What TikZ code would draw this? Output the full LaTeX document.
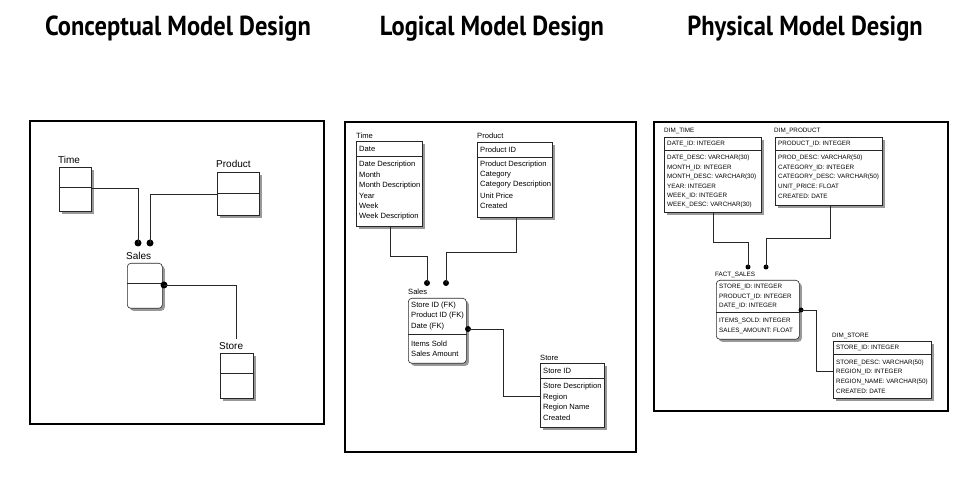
\documentclass[tikz,border=0pt]{standalone}
\usepackage{fontspec}
\setmainfont{Liberation Sans}
\newfontfamily\titlefont[FakeStretch=0.89]{PT Sans}
\usetikzlibrary{shadows}
\begin{document}
\begin{tikzpicture}[x=1pt,y=-1pt,
  panel/.style={draw=black, line width=1.8pt},
  title/.style={anchor=base, inner sep=0pt, font=\titlefont\bfseries\fontsize{27.5}{28}\selectfont},
  ent/.style={draw=black!85, line width=0.6pt, fill=white, anchor=north west, inner sep=0pt,
    drop shadow={shadow xshift=2.5pt, shadow yshift=-2.5pt, fill=black!40, opacity=1}},
  rent/.style={ent, rounded corners=3.5pt},
  divl/.style={draw=black!85, line width=0.6pt},
  clab/.style={anchor=west, inner sep=0pt, font=\fontsize{10}{10}\selectfont},
  llab/.style={anchor=west, inner sep=0pt, font=\fontsize{7.6}{8}\selectfont},
  plab/.style={anchor=west, inner sep=0pt, font=\fontsize{6.3}{7}\selectfont},
  conn/.style={draw=black!85, line width=0.7pt},
  cdot/.style={circle, fill=black, inner sep=0pt, minimum size=7pt},
  ldot/.style={circle, fill=black, inner sep=0pt, minimum size=6pt},
  pdot/.style={circle, fill=black, inner sep=0pt, minimum size=5pt}]
\useasboundingbox (0,0) rectangle (970,478);

% titles
\node[title] (t1) at (178,36) {Conceptual Model Design};
\node[title] (t2) at (492,36) {Logical Model Design};
\node[title] (t3) at (805,36) {Physical Model Design};

% panels
\draw[panel] (30,121) rectangle (324,424);
\draw[panel] (345,122) rectangle (636,452);
\draw[panel] (654,122) rectangle (948,411);

%% ---------------- Conceptual ----------------
\node[clab] (ctl) at (58,160) {Time};
\node[ent, minimum width=32pt, minimum height=44pt] (ct) at (59,167) {};
\draw[divl] (ct.west |- 0,187) -- (ct.east |- 0,187);

\node[clab] (cpl) at (216,164) {Product};
\node[ent, minimum width=42pt, minimum height=43pt] (cp) at (217,172) {};
\draw[divl] (cp.west |- 0,193) -- (cp.east |- 0,193);

\node[clab] (csl) at (126,256) {Sales};
\node[rent, minimum width=35pt, minimum height=45pt] (cs) at (127,263) {};
\draw[divl] (cs.west |- 0,283) -- (cs.east |- 0,283);

\node[clab] (cstl) at (219,346) {Store};
\node[ent, minimum width=33pt, minimum height=45pt] (cst) at (220,353) {};
\draw[divl] (cst.west |- 0,373) -- (cst.east |- 0,373);

\node[cdot] (cd1) at (138,243) {};
\node[cdot] (cd2) at (150,243) {};
\node[cdot] (cd3) at (164,285) {};
\coordinate (cse) at (236,339);
\draw[conn] (ct.east |- 0,188) -| (cd1.center);
\draw[conn] (cp.west |- 0,194) -| (cd2.center);
\draw[conn] (cd3.center) -| (cse);

%% ---------------- Logical ----------------
\node[llab] (ltl) at (356,136) {Time};
\node[ent, minimum width=66pt, minimum height=85pt] (lt) at (356,141) {};
\draw[divl] (lt.west |- 0,156) -- (lt.east |- 0,156);
\node[llab] at (359,149) {Date};
\node[llab] at (359,164.5) {Date Description};
\node[llab] at (359,175) {Month};
\node[llab] at (359,185.5) {Month Description};
\node[llab] at (359,196) {Year};
\node[llab] at (359,206) {Week};
\node[llab] at (359,216.5) {Week Description};

\node[llab] (lpl) at (477,136) {Product};
\node[ent, minimum width=75pt, minimum height=75pt] (lp) at (477,142) {};
\draw[divl] (lp.west |- 0,157) -- (lp.east |- 0,157);
\node[llab] at (480,150) {Product ID};
\node[llab] at (480,164.5) {Product Description};
\node[llab] at (480,175) {Category};
\node[llab] at (480,185) {Category Description};
\node[llab] at (480,195.5) {Unit Price};
\node[llab] at (480,206) {Created};

\node[llab] (lsl) at (408,292) {Sales};
\node[rent, minimum width=58pt, minimum height=65pt] (ls) at (408,298) {};
\draw[divl] (ls.west |- 0,334) -- (ls.east |- 0,334);
\node[llab] at (411,305.5) {Store ID (FK)};
\node[llab] at (411,316) {Product ID (FK)};
\node[llab] at (411,326.5) {Date (FK)};
\node[llab] at (411,343.5) {Items Sold};
\node[llab] at (411,354) {Sales Amount};

\node[llab] (lstl) at (540,358) {Store};
\node[ent, minimum width=64pt, minimum height=64pt] (lst) at (540,363) {};
\draw[divl] (lst.west |- 0,378) -- (lst.east |- 0,378);
\node[llab] at (543,371) {Store ID};
\node[llab] at (543,387) {Store Description};
\node[llab] at (543,397.5) {Region};
\node[llab] at (543,407.5) {Region Name};
\node[llab] at (543,418) {Created};

\node[ldot] (ld1) at (427,283) {};
\node[ldot] (ld2) at (446,283) {};
\node[ldot] (ld3) at (468,329) {};
\draw[conn] (lt.south -| 390,0) -- (390,256) -| (ld1.center);
\draw[conn] (lp.south -| 516,0) -- (516,252) -| (ld2.center);
\draw[conn] (ld3.center) -| (503,396) -- (lst.west |- 0,396);

%% ---------------- Physical ----------------
\node[plab] (ptl) at (664,131) {DIM\_TIME};
\node[ent, minimum width=97pt, minimum height=75pt] (pt) at (664,137) {};
\draw[divl] (pt.west |- 0,150) -- (pt.east |- 0,150);
\node[plab] at (667,144) {DATE\_ID: INTEGER};
\node[plab] at (667,158) {DATE\_DESC: VARCHAR(30)};
\node[plab] at (667,168) {MONTH\_ID: INTEGER};
\node[plab] at (667,177) {MONTH\_DESC: VARCHAR(30)};
\node[plab] at (667,186.5) {YEAR: INTEGER};
\node[plab] at (667,196) {WEEK\_ID: INTEGER};
\node[plab] at (667,205) {WEEK\_DESC: VARCHAR(30)};

\node[plab] (ppl) at (774,131) {DIM\_PRODUCT};
\node[ent, minimum width=107pt, minimum height=68pt] (pp) at (775,137) {};
\draw[divl] (pp.west |- 0,150) -- (pp.east |- 0,150);
\node[plab] at (778,144) {PRODUCT\_ID: INTEGER};
\node[plab] at (778,158) {PROD\_DESC: VARCHAR(50)};
\node[plab] at (778,168) {CATEGORY\_ID: INTEGER};
\node[plab] at (778,177) {CATEGORY\_DESC: VARCHAR(50)};
\node[plab] at (778,186.5) {UNIT\_PRICE: FLOAT};
\node[plab] at (778,196) {CREATED: DATE};

\node[plab] (psl) at (715,275) {FACT\_SALES};
\node[rent, minimum width=83pt, minimum height=59pt] (ps) at (716,280) {};
\draw[divl] (ps.west |- 0,312) -- (ps.east |- 0,312);
\node[plab] at (719,287) {STORE\_ID: INTEGER};
\node[plab] at (719,297) {PRODUCT\_ID: INTEGER};
\node[plab] at (719,306) {DATE\_ID: INTEGER};
\node[plab] at (719,321) {ITEMS\_SOLD: INTEGER};
\node[plab] at (719,331) {SALES\_AMOUNT: FLOAT};

\node[plab] (pstl) at (832,336) {DIM\_STORE};
\node[ent, minimum width=98pt, minimum height=57pt] (pst) at (833,341) {};
\draw[divl] (pst.west |- 0,354) -- (pst.east |- 0,354);
\node[plab] at (836,348) {STORE\_ID: INTEGER};
\node[plab] at (836,363) {STORE\_DESC: VARCHAR(50)};
\node[plab] at (836,372) {REGION\_ID: INTEGER};
\node[plab] at (836,382) {REGION\_NAME: VARCHAR(50)};
\node[plab] at (836,391) {CREATED: DATE};

\node[pdot] (pd1) at (748,267) {};
\node[pdot] (pd2) at (766,267) {};
\node[pdot] (pd3) at (801,310) {};
\draw[conn] (pt.south -| 713,0) -- (713,242) -| (pd1.center);
\draw[conn] (pp.south -| 830,0) -- (830,238) -| (pd2.center);
\draw[conn] (pd3.center) -| (816,371) -- (pst.west |- 0,371);
\end{tikzpicture}
\end{document}
